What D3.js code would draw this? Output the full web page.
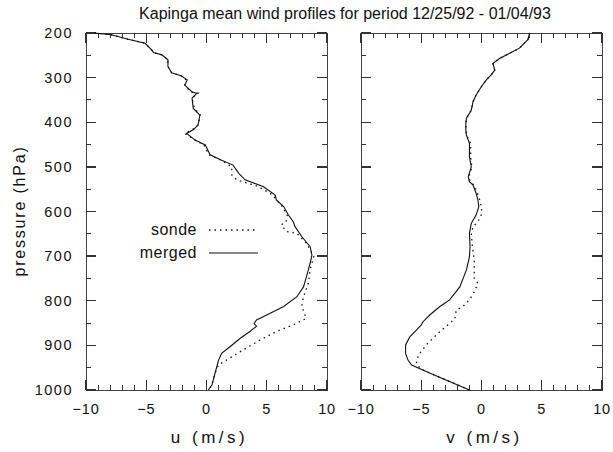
<!DOCTYPE html>
<html>
<head>
<meta charset="utf-8">
<title>Kapinga mean wind profiles</title>
<script src="https://cdn.jsdelivr.net/npm/d3@7"></script>
<style>
 body { margin: 0; background: #fff; }
 text { font-family: "Liberation Sans", Arial, sans-serif; fill: #111; }
 .frame { fill: none; stroke: #444; stroke-width: 1; shape-rendering: crispEdges; }
 .tick { stroke: #333; shape-rendering: crispEdges; }
</style>
</head>
<body>
<svg id="chart" width="613" height="452"></svg>
<script>
// [value m/s, pressure hPa]
var uMerged = [[-9.3,200],[-7.9,204],[-6.5,214],[-5.1,223],[-4.55,238],[-4.4,244],[-3.7,249],[-3.2,260],[-3.2,275],
  [-2.9,289],[-2.1,296],[-1.6,305],[-1.8,317],[-1.2,332],[-0.8,335],[-1.2,346],[-1.1,369],[-0.55,384],[-0.7,406],
  [-1.1,417],[-1.65,425],[-0.95,440],[-0.1,451],[0.3,473],[1.25,485],[2.2,496],[2.7,515],[3.2,529],[4.7,544],
  [5.7,563],[5.8,574],[6.4,589],[6.8,608],[7.2,623],[7.35,634],[7.9,656],[8.6,679],[8.75,698],[8.6,716],[8.3,746],
  [8.05,769],[7.5,791],[6.4,813],[5.0,832],[4.15,843],[3.95,851],[4.15,857],[3.6,869],[2.8,884],[1.95,903],
  [1.25,918],[1.0,933],[0.7,963],[0.45,989],[0.15,1000]];
var uSonde = [[-9.3,200],[-7.9,204],[-6.5,214],[-5.1,223],[-4.55,238],[-4.4,244],[-3.7,249],[-3.2,260],[-3.2,275],
  [-2.9,289],[-2.1,296],[-1.7,305],[-1.8,317],[-1.3,332],[-0.7,335],[-1.2,346],[-1.0,369],[-0.5,384],[-0.7,406],
  [-1.2,417],[-1.8,425],[-0.95,440],[-0.2,451],[0.2,473],[1.2,485],[2.1,500],[2.1,518],[2.5,529],[4.3,544],
  [5.5,563],[5.8,574],[6.3,589],[6.7,608],[6.6,623],[6.2,630],[6.65,645],[7.5,649],[8.3,671],[8.9,701],[8.6,731],
  [8.45,761],[8.05,791],[7.9,813],[8.15,828],[8.25,840],[7.2,854],[5.8,869],[4.45,888],[3.05,910],[1.65,933],
  [1.0,944],[0.7,963],[0.45,989],[0.15,1000]];
var vMerged = [[4.0,200],[3.85,215],[3.15,234],[2.3,246],[1.5,257],[0.95,268],[1.1,283],[0.8,294],[0.4,305],
  [0.0,320],[-0.45,339],[-0.7,354],[-0.85,373],[-1.25,391],[-1.3,402],[-1.3,417],[-1.25,429],[-1.0,447],[-1.0,477],
  [-0.85,500],[-1.1,522],[-1.0,533],[-0.7,541],[-0.45,559],[-0.3,574],[-0.22,589],[-0.45,608],[-0.85,627],
  [-1.0,649],[-0.95,679],[-1.0,701],[-1.25,731],[-1.8,769],[-2.65,798],[-3.45,813],[-4.3,832],[-4.85,847],
  [-5.0,854],[-5.4,866],[-5.95,881],[-6.3,899],[-6.3,918],[-6.1,933],[-5.8,944],[-4.55,959],[-2.9,978],[-1.0,1000]];
var vSonde = [[4.0,200],[3.85,215],[3.15,234],[2.3,246],[1.5,257],[0.95,268],[1.1,283],[0.8,294],[0.4,305],
  [0.0,320],[-0.45,339],[-0.7,354],[-0.85,373],[-1.25,391],[-1.3,402],[-1.3,417],[-1.25,429],[-0.9,447],[-0.9,477],
  [-0.8,500],[-1.05,522],[-0.95,533],[-0.6,541],[-0.35,559],[-0.15,574],[-0.05,585],[0.05,604],[-0.3,623],
  [-0.7,634],[-0.85,649],[-0.75,679],[-0.6,709],[-0.6,735],[-0.6,750],[-0.3,761],[-0.6,780],[-1.0,798],[-1.55,813],
  [-2.1,821],[-2.2,840],[-2.65,851],[-3.45,869],[-4.45,895],[-5.25,922],[-5.4,940],[-5.1,952],[-4.55,959],
  [-2.9,978],[-1.0,1000]];

var pressureTicks = [200,300,400,500,600,700,800,900,1000];
var windTicks = [-10,-5,0,5,10];
var legendLabels = ["sonde", "merged"];
var titleText = "Kapinga mean wind profiles for period 12/25/92 - 01/04/93";

var svg = d3.select("#chart");
var plotTop = 33, plotBottom = 390;
var y = d3.scaleLinear().domain([200, 1000]).range([plotTop, plotBottom]);

var panels = [
  {x0: 86, x1: 327, label: "u (m/s)", merged: uMerged, sonde: uSonde, ylabels: true},
  {x0: 361, x1: 602, label: "v (m/s)", merged: vMerged, sonde: vSonde, ylabels: false}
];

var fmt = function(d) { return d < 0 ? "\u2212" + Math.abs(d) : String(d); };

panels.forEach(function(pn) {
  var x = d3.scaleLinear().domain([-10, 10]).range([pn.x0, pn.x1]);
  var g = svg.append("g");
  var line = d3.line().x(function(d) { return x(d[0]); }).y(function(d) { return y(d[1]); });

  g.append("rect").attr("class", "frame")
    .attr("x", pn.x0).attr("y", plotTop).attr("width", pn.x1 - pn.x0).attr("height", plotBottom - plotTop);

  // x ticks, every 1, major every 5, inward on top and bottom
  d3.range(-10, 11).forEach(function(v) {
    var len = (v % 5 === 0) ? 10 : 5;
    g.append("line").attr("class", "tick").attr("stroke-width", v % 5 === 0 ? 1.3 : 1)
      .attr("x1", x(v)).attr("x2", x(v)).attr("y1", plotBottom).attr("y2", plotBottom - len);
    g.append("line").attr("class", "tick").attr("stroke-width", v % 5 === 0 ? 1.3 : 1)
      .attr("x1", x(v)).attr("x2", x(v)).attr("y1", plotTop).attr("y2", plotTop + len);
  });
  // y ticks, every 50, major every 100
  d3.range(200, 1001, 50).forEach(function(p) {
    var len = (p % 100 === 0) ? 10 : 5;
    g.append("line").attr("class", "tick").attr("stroke-width", p % 100 === 0 ? 1.3 : 1)
      .attr("x1", pn.x0).attr("x2", pn.x0 + len).attr("y1", y(p)).attr("y2", y(p));
    g.append("line").attr("class", "tick").attr("stroke-width", p % 100 === 0 ? 1.3 : 1)
      .attr("x1", pn.x1).attr("x2", pn.x1 - len).attr("y1", y(p)).attr("y2", y(p));
  });

  g.selectAll(".xl").data(windTicks).enter().append("text")
    .attr("x", function(d) { return x(d); }).attr("y", 414)
    .attr("text-anchor", "middle").style("font-size", "14.5px").style("letter-spacing", "0.8px")
    .text(fmt);

  g.append("text").attr("x", (pn.x0 + pn.x1) / 2 + 3).attr("y", 443)
    .attr("text-anchor", "middle").style("font-size", "17px").style("letter-spacing", "3.5px")
    .text(pn.label);

  if (pn.ylabels) {
    g.selectAll(".yl").data(pressureTicks).enter().append("text")
      .attr("x", 73).attr("y", function(d) { return y(d) + 5; })
      .attr("text-anchor", "end").style("font-size", "14.5px").style("letter-spacing", "1.5px")
      .text(function(d) { return d; });
  }

  g.append("path").datum(pn.sonde).attr("d", line)
    .attr("fill", "none").attr("stroke", "#111").attr("stroke-width", 1.3).attr("stroke-dasharray", "1.5,4");
  g.append("path").datum(pn.merged).attr("d", line)
    .attr("fill", "none").attr("stroke", "#111").attr("stroke-width", 1.1);
});

svg.append("text").attr("x", 345).attr("y", 19).attr("text-anchor", "middle")
  .style("font-size", "16px").text(titleText);

svg.append("text").attr("transform", "translate(25,211) rotate(-90)")
  .attr("text-anchor", "middle").style("font-size", "16px").style("letter-spacing", "1.8px")
  .text("pressure (hPa)");

// legend
var legendY = [230, 253];
legendLabels.forEach(function(lab, i) {
  svg.append("text").attr("x", 197).attr("y", legendY[i] + 5).attr("text-anchor", "end")
    .style("font-size", "16px").style("letter-spacing", "0.5px").text(lab);
  svg.append("line").attr("x1", 209).attr("x2", 258).attr("y1", legendY[i]).attr("y2", legendY[i])
    .attr("stroke", "#111").attr("stroke-width", i === 0 ? 1.3 : 1.1)
    .attr("stroke-dasharray", i === 0 ? "1.5,4" : null);
});
</script>
</body>
</html>
